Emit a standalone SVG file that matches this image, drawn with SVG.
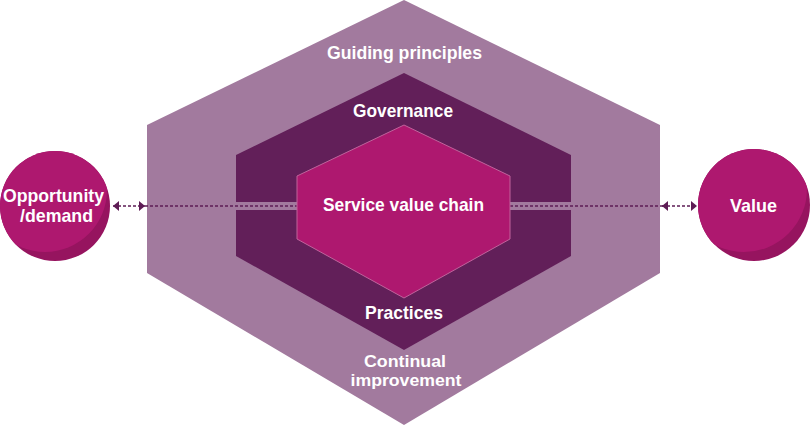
<svg xmlns="http://www.w3.org/2000/svg" width="810" height="425" viewBox="0 0 810 425">
<defs>
<style>
.lbl{font-family:"Liberation Sans","DejaVu Sans",sans-serif;font-weight:bold;font-size:19px;fill:#ffffff;text-anchor:middle}
.sm{font-size:16.5px}
.dash{stroke:#5e1c55;stroke-width:1.3;stroke-dasharray:3 2;fill:none}
</style>
<marker id="ah" viewBox="0 0 6 10" refX="6" refY="5" markerWidth="6" markerHeight="10" markerUnits="userSpaceOnUse" orient="auto-start-reverse">
<path d="M0,0 L6,5 L0,10 Z" fill="#5e1c55"/>
</marker>
<clipPath id="cl"><circle cx="55" cy="206" r="55"/></clipPath>
<clipPath id="cr"><circle cx="754" cy="205" r="56"/></clipPath>
</defs>
<rect width="810" height="425" fill="#ffffff"/>
<g id="guiding-principles">
<polygon points="404,0 660,125 660,273 404,425 147,273 147,125" fill="#a27a9e"/>
<text class="lbl" x="404.5" y="59" textLength="155" lengthAdjust="spacingAndGlyphs">Guiding principles</text>
<text class="lbl sm" x="405" y="367" textLength="82" lengthAdjust="spacingAndGlyphs">Continual</text>
<text class="lbl sm" x="406" y="385.5" textLength="111" lengthAdjust="spacingAndGlyphs">improvement</text>
</g>
<g id="governance-practices">
<polygon points="404,73 571,155 571,256 404,350 236,256 236,155" fill="#621f59"/>
<rect x="236" y="202" width="335" height="8" fill="#a27a9e"/>
<text class="lbl" x="403" y="117" textLength="100" lengthAdjust="spacingAndGlyphs">Governance</text>
<text class="lbl" x="404" y="319" textLength="78" lengthAdjust="spacingAndGlyphs">Practices</text>
</g>
<g id="connectors">
<line class="dash" x1="145" y1="206" x2="663" y2="206"/>
<line class="dash" x1="113" y1="206" x2="145" y2="206" marker-start="url(#ah)" marker-end="url(#ah)"/>
<line class="dash" x1="662" y1="206" x2="697" y2="206" marker-start="url(#ah)" marker-end="url(#ah)"/>
</g>
<g id="service-value-chain">
<polygon points="404,125 510,176 510,239 404,298 297,239 297,176" fill="#ae186f" stroke="#c0639c" stroke-width="1"/>
<text class="lbl" x="403.5" y="211" textLength="161" lengthAdjust="spacingAndGlyphs">Service value chain</text>
</g>
<g id="opportunity-demand">
<circle cx="55" cy="206" r="55" fill="#96145f"/>
<circle cx="45" cy="190" r="62" fill="#ae186f" clip-path="url(#cl)"/>
<text class="lbl" x="53.5" y="202" textLength="101" lengthAdjust="spacingAndGlyphs">Opportunity</text>
<text class="lbl" x="56.5" y="222" textLength="73" lengthAdjust="spacingAndGlyphs">/demand</text>
</g>
<g id="value">
<circle cx="754" cy="205" r="56" fill="#96145f"/>
<circle cx="744" cy="189" r="63" fill="#ae186f" clip-path="url(#cr)"/>
<text class="lbl" x="753.5" y="212" textLength="47" lengthAdjust="spacingAndGlyphs">Value</text>
</g>
</svg>
